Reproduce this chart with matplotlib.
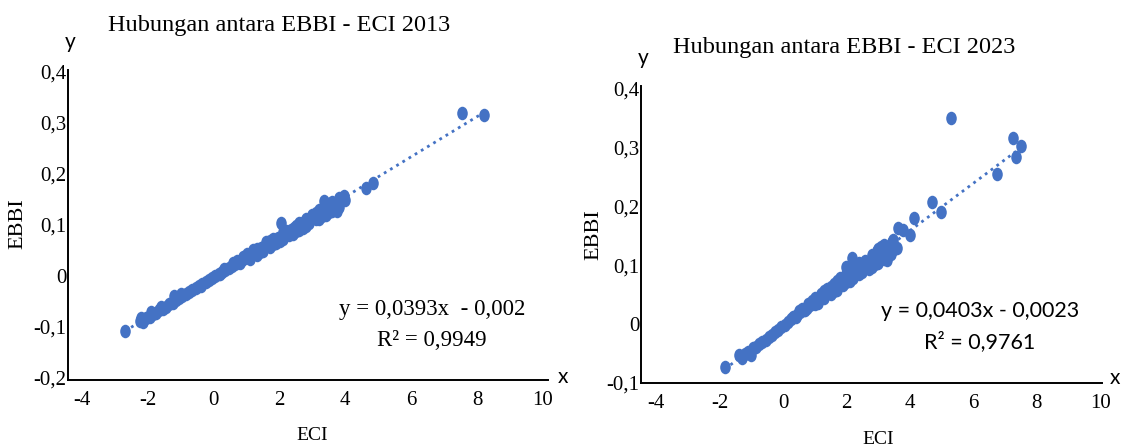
import matplotlib
matplotlib.use('Agg')
import matplotlib.pyplot as plt
from matplotlib.path import Path
from matplotlib.transforms import Affine2D

# ---------------------------------------------------------------
# data
# ---------------------------------------------------------------

eci_2013 = [-2.70, -2.25, -2.20, -2.15, -2.05, -1.95, -1.90, -1.85, -1.75, -1.65,
            -1.60, -1.55, -1.45, -1.35, -1.25, -1.20, -1.15, -1.05, -1.00, -0.95,
            -0.85, -0.75, -0.65, -0.55, -0.45, -0.35, -0.25, -0.15, -0.05, 0.05,
            0.15, 0.25, 0.35, 0.45, 0.55, 0.60, 0.65, 0.75, 0.85, 0.95,
            1.00, 1.05, 1.10, 1.15, 1.20, 1.25, 1.30, 1.35, 1.45, 1.50,
            1.55, 1.60, 1.65, 1.70, 1.75, 1.80, 1.85, 1.90, 1.95, 2.04,
            2.10, 2.15, 2.20, 2.25, 2.30, 2.35, 2.45, 2.50, 2.55, 2.60,
            2.65, 2.70, 2.75, 2.85, 2.90, 2.95, 3.00, 3.05, 3.10, 3.15,
            3.25, 3.30, 3.35, 3.40, 3.45, 3.50, 3.55, 3.60, 3.65, 3.70,
            3.75, 3.85, 3.95, 4.00, 4.62, 4.83, 7.56, 8.20,
            0.30, 0.70, 0.90, 1.30, 1.70, 2.10, 2.50, 2.80, 3.10, 3.20,
            3.60, 3.80, -0.40, 0.20, 0.80, 1.40, 1.80, 2.00, 2.40, 2.60,
            2.80, 3.20, 3.40, 3.60, 3.80]
ebbi_2013 = [-0.108, -0.088, -0.082, -0.091, -0.083, -0.080, -0.071, -0.075, -0.073, -0.067,
             -0.060, -0.064, -0.060, -0.054, -0.052, -0.040, -0.047, -0.044, -0.035, -0.040,
             -0.036, -0.032, -0.028, -0.024, -0.020, -0.016, -0.012, -0.008, -0.004, 0.000,
             0.004, 0.008, 0.012, 0.016, 0.020, 0.026, 0.024, 0.027, 0.031, 0.036,
             0.043, 0.039, 0.033, 0.044, 0.050, 0.047, 0.041, 0.051, 0.055, 0.049,
             0.059, 0.066, 0.063, 0.057, 0.067, 0.073, 0.071, 0.064, 0.074, 0.104,
             0.072, 0.083, 0.088, 0.087, 0.080, 0.090, 0.094, 0.088, 0.098, 0.104,
             0.102, 0.095, 0.106, 0.110, 0.103, 0.114, 0.120, 0.118, 0.111, 0.121,
             0.125, 0.118, 0.147, 0.136, 0.133, 0.126, 0.137, 0.143, 0.141, 0.134,
             0.127, 0.149, 0.157, 0.150, 0.173, 0.183, 0.320, 0.315,
             0.013, 0.029, 0.037, 0.053, 0.069, 0.086, 0.099, 0.112, 0.124, 0.130,
             0.146, 0.152, -0.020, 0.004, 0.026, 0.048, 0.062, 0.068, 0.083, 0.090,
             0.098, 0.112, 0.120, 0.128, 0.136]

eci_2023 = [-1.84, -1.40, -1.30, -1.20, -1.10, -1.00, -0.95, -0.85, -0.75, -0.65,
            -0.55, -0.45, -0.35, -0.25, -0.15, -0.05, 0.05, 0.15, 0.25, 0.35,
            0.45, 0.50, 0.55, 0.65, 0.75, 0.80, 0.85, 0.95, 1.00, 1.05,
            1.10, 1.15, 1.20, 1.25, 1.30, 1.35, 1.40, 1.45, 1.50, 1.55,
            1.60, 1.65, 1.70, 1.75, 1.80, 1.85, 1.90, 2.00, 2.05, 2.10,
            2.18, 2.25, 2.30, 2.35, 2.45, 2.50, 2.55, 2.60, 2.65, 2.70,
            2.75, 2.85, 2.90, 2.95, 3.05, 3.10, 3.15, 3.27, 3.30, 3.35,
            3.40, 3.47, 3.50, 3.64, 3.77, 4.00, 4.12, 4.69, 4.99, 5.31,
            6.74, 7.24, 7.34, 7.50,
            0.30, 0.60, 0.90, 1.30, 1.50, 1.70, 2.00, 2.20, 2.40, 2.80,
            3.00, 3.20, 3.45, 0.40, 0.70, 1.00, 1.60, 2.00, 2.20, 2.40,
            2.80, 3.00, 3.20, 3.60]
ebbi_2023 = [-0.073, -0.052, -0.058, -0.050, -0.047, -0.053, -0.040, -0.038, -0.034, -0.030,
             -0.027, -0.022, -0.018, -0.014, -0.010, -0.005, -0.001, 0.004, 0.008, 0.012,
             0.016, 0.022, 0.020, 0.024, 0.028, 0.034, 0.032, 0.036, 0.045, 0.040,
             0.036, 0.044, 0.052, 0.048, 0.044, 0.052, 0.060, 0.056, 0.052, 0.060,
             0.068, 0.064, 0.058, 0.068, 0.078, 0.072, 0.066, 0.097, 0.080, 0.074,
             0.113, 0.088, 0.100, 0.092, 0.096, 0.088, 0.100, 0.108, 0.104, 0.094,
             0.108, 0.112, 0.102, 0.124, 0.122, 0.132, 0.126, 0.109, 0.132, 0.128,
             0.120, 0.143, 0.128, 0.163, 0.160, 0.151, 0.180, 0.208, 0.190, 0.350,
             0.256, 0.316, 0.284, 0.303,
             0.013, 0.026, 0.040, 0.056, 0.064, 0.074, 0.086, 0.094, 0.104, 0.118,
             0.128, 0.135, 0.140, 0.012, 0.024, 0.034, 0.057, 0.072, 0.078, 0.086,
             0.098, 0.104, 0.110, 0.130]

# trendline coefficients as printed on the chart
slope_2013, icpt_2013, r2_2013 = 0.0393, -0.002, '0,9949'
slope_2023, icpt_2023, r2_2023 = 0.0403, -0.0023, '0,9761'

xticks = [-4, -2, 0, 2, 4, 6, 8, 10]
yticks_2013 = [-0.2, -0.1, 0, 0.1, 0.2, 0.3, 0.4]
ylabels_2013 = ['-0,2', '-0,1', '0', '0,1', '0,2', '0,3', '0,4']
yticks_2023 = [-0.1, 0, 0.1, 0.2, 0.3, 0.4]
ylabels_2023 = ['-0,1', '0', '0,1', '0,2', '0,3', '0,4']

BLUE = '#4472C4'
SERIF = 'Liberation Serif'
SANS = 'Lato'

# the source picture is stretched vertically, so the dots are slightly tall ovals
oval = Path.unit_circle().transformed(Affine2D().scale(0.78, 1.0))

W, H = 1123, 447
fig = plt.figure(figsize=(W / 100, H / 100), dpi=100)


def px(x, y):
    # pixel position -> figure fraction
    return x / W, 1 - y / H


def add_panel(box, xs, ys, slope, icpt, xlim, ylim, yticks, ylabels):
    left, top, right, bottom = box
    ax = fig.add_axes([left / W, 1 - bottom / H, (right - left) / W, (bottom - top) / H])
    ax.scatter(xs, ys, s=95, marker=oval, color=BLUE, linewidths=0, zorder=3)
    x0, x1 = min(xs), max(xs)
    ax.plot([x0, x1], [slope * x0 + icpt, slope * x1 + icpt], color=BLUE,
            linestyle=(0, (1, 1.6)), linewidth=2.0, zorder=2)
    ax.set_xlim(*xlim)
    ax.set_ylim(*ylim)
    ax.set_xticks(xticks)
    ax.set_xticklabels([str(t) for t in xticks])
    ax.set_yticks(yticks)
    ax.set_yticklabels(ylabels)
    ax.tick_params(length=0, labelsize=15)
    ax.tick_params(axis='x', pad=8)
    ax.tick_params(axis='y', pad=1)
    for lab in ax.get_xticklabels() + ax.get_yticklabels():
        lab.set_fontfamily(SERIF)
    for side in ['top', 'right']:
        ax.spines[side].set_visible(False)
    for side in ['left', 'bottom']:
        ax.spines[side].set_linewidth(1.4)
        ax.spines[side].set_color('black')
    ax.patch.set_alpha(0)
    return ax


# ---------------- panel 2013 ----------------
add_panel((68, 70, 548, 380), eci_2013, ebbi_2013, slope_2013, icpt_2013,
          (-4.43, 10.16), (-0.204, 0.404), yticks_2013, ylabels_2013)
fig.text(*px(279, 26), 'Hubungan antara EBBI - ECI 2013', ha='center', va='center',
         fontsize=17.5, family=SERIF)
fig.text(*px(70, 42), 'y', ha='center', va='center', fontsize=15, family=SANS)
fig.text(*px(563, 377), 'x', ha='center', va='center', fontsize=15, family=SANS)
fig.text(*px(312, 436), 'ECI', ha='center', va='center', fontsize=14, family=SERIF)
fig.text(*px(18, 224), 'EBBI', ha='center', va='center', rotation=90,
         fontsize=16, family=SERIF)
fig.text(*px(432, 309), 'y = 0,0393x  - 0,002', ha='center', va='center',
         fontsize=16.5, family=SERIF)
fig.text(*px(432, 340), 'R² = ' + r2_2013, ha='center', va='center',
         fontsize=16.5, family=SERIF)

# ---------------- panel 2023 ----------------
add_panel((641, 86, 1102, 383), eci_2023, ebbi_2023, slope_2023, icpt_2023,
          (-4.48, 10.06), (-0.1, 0.405), yticks_2023, ylabels_2023)
fig.text(*px(844, 47), 'Hubungan antara EBBI - ECI 2023', ha='center', va='center',
         fontsize=17.5, family=SERIF)
fig.text(*px(643, 58), 'y', ha='center', va='center', fontsize=15, family=SANS)
fig.text(*px(1115, 378), 'x', ha='center', va='center', fontsize=15, family=SANS)
fig.text(*px(878, 439), 'ECI', ha='center', va='center', fontsize=14, family=SERIF)
fig.text(*px(594, 235), 'EBBI', ha='center', va='center', rotation=90,
         fontsize=16, family=SERIF)
fig.text(*px(980, 311), 'y = 0,0403x - 0,0023', ha='center', va='center',
         fontsize=15.5, family=SANS)
fig.text(*px(980, 342), 'R² = ' + r2_2023, ha='center', va='center',
         fontsize=15.5, family=SANS)

fig.savefig('out.png', dpi=100)
